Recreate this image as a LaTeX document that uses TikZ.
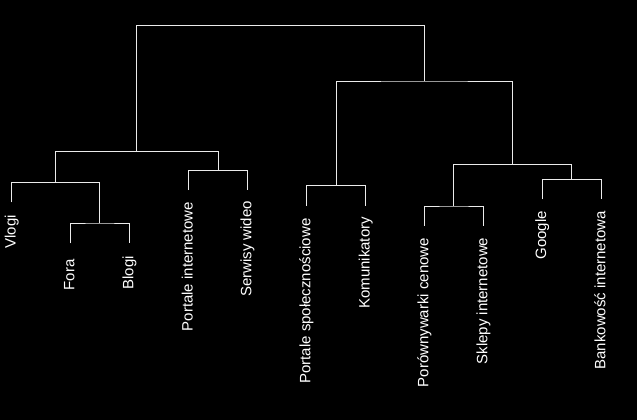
\documentclass[tikz,border=0pt]{standalone}
\usepackage{fontspec}
\setmainfont{Liberation Sans}
\begin{document}
\begin{tikzpicture}[x=1pt,y=-1pt,
  link/.style={draw=white!92!black,line width=0.9pt},
  leaflabel/.style={text=white,rotate=90,anchor=base east,inner sep=0pt,outer sep=0pt,font=\fontsize{15}{18}\selectfont}]
\fill[black] (0,0) rectangle (637,420);
\useasboundingbox (0,0) rectangle (637,420);
% leaves (bottom ends)
\coordinate (L1) at (11.7,202.3);
\coordinate (L2) at (70.3,243.3);
\coordinate (L3) at (129.3,243.3);
\coordinate (L4) at (188.7,190);
\coordinate (L5) at (247.3,190);
\coordinate (L6) at (306.3,205.7);
\coordinate (L7) at (365.7,205.7);
\coordinate (L8) at (424.3,225.7);
\coordinate (L9) at (483.3,225.7);
\coordinate (L10) at (542,199.3);
\coordinate (L11) at (601.3,199.3);
% merges
\coordinate (m23) at (99.8,223);
\coordinate (m123) at (55.75,182.7);
\coordinate (m45) at (218,170.3);
\coordinate (m15) at (136.9,151.3);
\coordinate (m67) at (336,185.7);
\coordinate (m89) at (453.8,206);
\coordinate (m1011) at (571.65,179.3);
\coordinate (m811) at (512.7,164.3);
\coordinate (m611) at (424.35,81);
\coordinate (root) at (280.6,25.3);
% links
\draw[link] (L2) |- (m23) -| (L3);
\draw[link] (L1) |- (m123) -| (m23);
\draw[link] (L4) |- (m45) -| (L5);
\draw[link] (m123) |- (m15) -| (m45);
\draw[link] (L6) |- (m67) -| (L7);
\draw[link] (L8) |- (m89) -| (L9);
\draw[link] (L10) |- (m1011) -| (L11);
\draw[link] (m89) |- (m811) -| (m1011);
\draw[link] (m67) |- (m611) -| (m811);
\draw[link] (m15) |- (root) -| (m611);
% labels
\node[leaflabel] (t1) at (15.7,215.3) {Vlogi};
\node[leaflabel] (t2) at (74.3,259.5) {Fora};
\node[leaflabel] (t3) at (133.3,256) {Blogi};
\node[leaflabel] (t4) at (192.7,202) {Portale internetowe};
\node[leaflabel] (t5) at (251.3,201) {Serwisy wideo};
\node[leaflabel] (t6) at (310.3,218.5) {Portale społecznościowe};
\node[leaflabel] (t7) at (369.7,217) {Komunikatory};
\node[leaflabel] (t8) at (428.3,238) {Porównywarki cenowe};
\node[leaflabel] (t9) at (487.3,237.7) {Sklepy internetowe};
\node[leaflabel] (t10) at (546,211) {Google};
\node[leaflabel] (t11) at (605.3,211) {Bankowość internetowa};
\end{tikzpicture}
\end{document}
